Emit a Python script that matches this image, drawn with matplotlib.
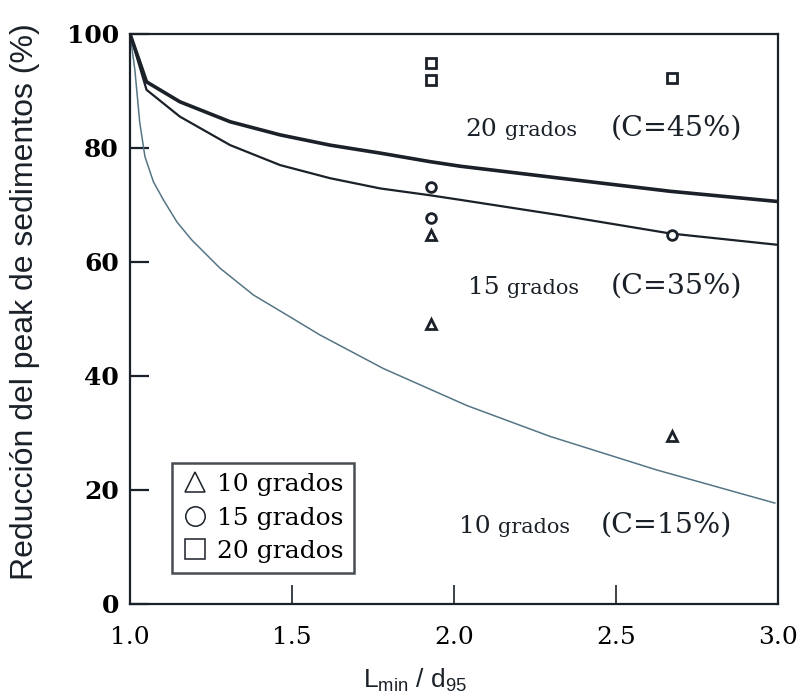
import matplotlib
matplotlib.use('Agg')
import matplotlib.pyplot as plt

# curves (Lmin/d95 -> reduction %)
x_20 = [1.0, 1.051, 1.154, 1.309, 1.463, 1.617, 1.772, 1.926, 2.019, 2.327, 2.667, 3.0]
y_20 = [100, 91.6, 88.1, 84.6, 82.3, 80.5, 79.1, 77.6, 76.8, 74.7, 72.4, 70.6]

x_15 = [1.0, 1.051, 1.154, 1.309, 1.463, 1.617, 1.772, 1.926, 2.019, 2.327, 2.667, 3.0]
y_15 = [100, 90.2, 85.5, 80.5, 77.0, 74.7, 72.9, 71.7, 70.9, 68.2, 65.0, 63.0]

x_10 = [1.0, 1.015, 1.03, 1.046, 1.072, 1.103, 1.145, 1.19, 1.278, 1.381, 1.484, 1.586,
        1.782, 2.04, 2.296, 2.626, 2.99]
y_10 = [100, 93.7, 84.5, 78.5, 74.1, 70.9, 67.0, 63.9, 58.9, 54.2, 50.7, 47.2,
        41.3, 34.8, 29.4, 23.5, 17.7]

# measured points
pts10_x = [1.93, 1.93, 2.672]
pts10_y = [64.7, 49.2, 29.4]
pts15_x = [1.93, 1.93, 2.672]
pts15_y = [73.2, 67.7, 64.7]
pts20_x = [1.93, 1.93, 2.672]
pts20_y = [94.9, 91.9, 92.2]

xticks = [1.0, 1.5, 2.0, 2.5, 3.0]
yticks = [0, 20, 40, 60, 80, 100]

ink = '#1b2128'
serif = 'DejaVu Serif'

fig = plt.figure(figsize=(8.04, 6.99), dpi=100)
ax = fig.add_axes([0.1617, 0.136, 0.806, 0.8154])

ax.plot(x_10, y_10, color='#557585', lw=1.1, zorder=2)
ax.plot(x_15, y_15, color=ink, lw=1.6, zorder=3)
ax.plot(x_20, y_20, color=ink, lw=2.6, zorder=3)

mk = dict(linestyle='none', markerfacecolor='white', markeredgecolor=ink,
          markeredgewidth=2.0, markersize=7, zorder=4)
ax.plot(pts10_x, pts10_y, marker='^', **mk)
ax.plot(pts15_x, pts15_y, marker='o', **mk)
ax.plot(pts20_x, pts20_y, marker='s', **mk)

# curve annotations
for num, x_num, x_c, yb, c_txt in [('20', 2.034, 2.485, 82.1, '(C=45%)'),
                                   ('15', 2.043, 2.485, 54.4, '(C=35%)'),
                                   ('10', 2.015, 2.454, 12.5, '(C=15%)')]:
    ax.text(x_num, yb, num, family=serif, fontsize=18, color=ink, va='baseline')
    ax.text(x_num + 0.122, yb, 'grados', family=serif, fontsize=15, color=ink, va='baseline')
    ax.text(x_c, yb, c_txt, family=serif, fontsize=20.5, color=ink, va='baseline')

# legend
handles = [plt.Line2D([], [], marker=m, linestyle='none', markerfacecolor='white',
                      markeredgecolor=ink, markeredgewidth=1.1, markersize=14)
           for m in ['^', 'o', 's']]
leg = ax.legend(handles, ['10 grados', '15 grados', '20 grados'], loc='lower left',
                bbox_to_anchor=(0.065, 0.054), borderaxespad=0, frameon=True, fancybox=False,
                prop={'family': serif, 'size': 18}, handletextpad=0.4, handlelength=1.0,
                labelspacing=0.42, borderpad=0.4)
leg.get_frame().set_edgecolor(ink)
leg.get_frame().set_linewidth(1.8)

ax.set_xlim(1.0, 3.0)
ax.set_ylim(0, 100)
ax.set_xticks(xticks)
ax.set_yticks(yticks)
ax.set_xticklabels(['%.1f' % v for v in xticks], family=serif, fontsize=18)
ax.set_yticklabels([str(v) for v in yticks], family=serif, fontsize=18, fontweight='bold')
ax.tick_params(axis='x', direction='in', length=14, width=1.2, color=ink, pad=16, top=False)
ax.tick_params(axis='y', direction='in', length=14, width=1.6, color=ink, pad=8, right=False)
for s in ax.spines.values():
    s.set_color(ink)
    s.set_linewidth(1.6)

ax.set_ylabel('Reducción del peak de sedimentos (%)', family='Liberation Sans', fontsize=23, color=ink)
ax.yaxis.set_label_coords(-0.139, 0.53)
ax.set_xlabel(r'L$_{\mathregular{min}}$ / d$_{\mathregular{95}}$', family='Liberation Sans',
              fontsize=19, color=ink)
ax.xaxis.set_label_coords(0.44, -0.11)

fig.savefig('out.png', dpi=100)
